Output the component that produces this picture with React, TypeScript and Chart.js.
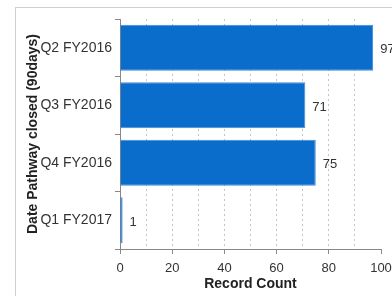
import React, { useEffect, useRef } from "react";
import { Chart, registerables } from "chart.js";

Chart.register(...registerables);

const categories = ["Q2 FY2016", "Q3 FY2016", "Q4 FY2016", "Q1 FY2017"];
const recordCounts = [97, 71, 75, 1];
const xTicks = [0, 20, 40, 60, 80, 100];

const FONT = "'Liberation Sans', Arial, sans-serif";

const valueLabels = {
  id: "valueLabels",
  afterDatasetsDraw(chart: any) {
    const { ctx } = chart;
    const meta = chart.getDatasetMeta(0);
    ctx.save();
    ctx.font = `13px ${FONT}`;
    ctx.fillStyle = "#333";
    ctx.textAlign = "left";
    ctx.textBaseline = "middle";
    meta.data.forEach((bar: any, i: number) => {
      ctx.fillText(String(recordCounts[i]), bar.x + 7, bar.y + 2);
    });
    ctx.restore();
  },
};

export default function App() {
  const ref = useRef<HTMLCanvasElement>(null);
  useEffect(() => {
    const chart = new Chart(ref.current!, {
      type: "bar",
      data: {
        labels: categories,
        datasets: [
          {
            data: recordCounts,
            backgroundColor: "#0b6dcb",
            borderColor: "#3d8ad6",
            borderWidth: 1,
            barPercentage: 0.8,
            categoryPercentage: 1,
          },
        ],
      },
      options: {
        indexAxis: "y",
        animation: false,
        responsive: false,
        maintainAspectRatio: false,
        layout: { padding: { left: 21, top: 19, right: 39, bottom: 0 } },
        plugins: { legend: { display: false }, tooltip: { enabled: false } },
        scales: {
          x: {
            min: 0,
            max: 100,
            afterFit: (s: any) => {
              s.height = 47;
            },
            ticks: {
              stepSize: 10,
              autoSkip: false,
              maxRotation: 0,
              padding: 7,
              color: "#333",
              font: { size: 13, family: FONT },
              callback: (v: any) => (xTicks.includes(Number(v)) ? String(v) : ""),
            },
            grid: {
              color: (c: any) =>
                c.tick && (c.tick.value === 0 || c.tick.value === 100) ? "transparent" : "#c4c4c4",
              lineWidth: 1,
              drawTicks: true,
              tickLength: 5,
              tickColor: (c: any) =>
                c.tick && xTicks.includes(c.tick.value) ? "#888" : "transparent",
              tickBorderDash: [],
            },
            border: { display: true, color: "#888", width: 1, dash: [2, 3] },
            title: {
              display: true,
              text: "Record Count",
              color: "#222",
              font: { size: 14, weight: "bold", family: FONT },
              padding: { top: 2, bottom: 3 },
            },
          },
          y: {
            afterFit: (s: any) => {
              s.width = 99;
            },
            ticks: {
              padding: 3,
              color: "#333",
              font: { size: 14, family: FONT },
            },
            grid: {
              offset: true,
              drawOnChartArea: false,
              drawTicks: true,
              tickLength: 5,
              tickColor: "#888",
            },
            border: { display: true, color: "#888", width: 1 },
            title: {
              display: true,
              text: "Date Pathway closed (90days)",
              color: "#222",
              font: { size: 14, weight: "bold", family: FONT },
              padding: { top: 4, bottom: 4 },
            },
          },
        },
      },
      plugins: [valueLabels],
    });
    return () => chart.destroy();
  }, []);

  return (
    <div
      style={{
        position: "absolute",
        left: 0,
        top: 0,
        width: 392,
        height: 296,
        overflow: "hidden",
        background: "#fff",
      }}
    >
      <div
        style={{
          position: "absolute",
          left: 15,
          top: 7,
          width: 500,
          height: 400,
          border: "1px solid #cfcfcf",
        }}
      />
      <canvas
        ref={ref}
        width={420}
        height={296}
        style={{ position: "absolute", left: 0, top: 0, width: 420, height: 296 }}
      />
    </div>
  );
}
